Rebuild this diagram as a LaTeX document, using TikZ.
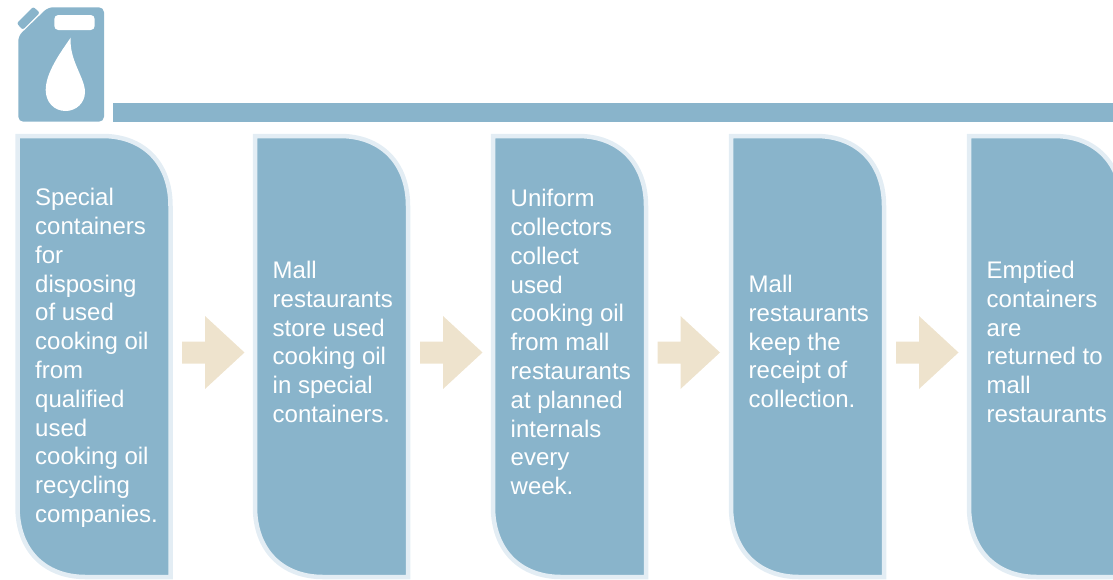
\documentclass[tikz,border=0pt]{standalone}
\usepackage{fontspec}
\setmainfont{Liberation Sans}
\definecolor{oilblue}{HTML}{89B4CB}
\definecolor{paleedge}{HTML}{E3EDF4}
\definecolor{sand}{HTML}{EEE3CD}
\tikzset{
  stagebox/.style={fill=oilblue,draw=paleedge,line width=4.5pt,line join=miter},
  stagetext/.style={text=white,anchor=north west,inner sep=0pt,align=left,font=\fontsize{24}{28.8}\selectfont},
  flowarrow/.style={fill=sand,draw=none},
}
\newcommand{\stageshape}[1]{%
  \path[stagebox] (#1,136) -- (#1+85,136)
    .. controls (#1+126,136) and (#1+153,163) .. (#1+153,206)
    -- (#1+153,577) -- (#1+68,577)
    .. controls (#1+27,577) and (#1,550) .. (#1,507) -- cycle;}
\newcommand{\flowshape}[1]{%
  \path[flowarrow] (#1,341.5) -- (#1+23,341.5) -- (#1+23,316) -- (#1+62.5,352.5)
    -- (#1+23,389) -- (#1+23,363.5) -- (#1,363.5) -- cycle;}
\begin{document}
\begin{tikzpicture}[x=1pt,y=-1pt]
\useasboundingbox (0,0) rectangle (1113,579);
\clip (0,0) rectangle (1113,579);
% canister
\fill[oilblue,rounded corners=5pt] (18.3,36) -- (48,7.3) -- (104,7.3) -- (104,121.7) -- (18.3,121.7) -- cycle;
\fill[oilblue,rounded corners=2pt] (16.8,23.3) -- (33.3,6.8) -- (39.8,12.7) -- (22.7,29.8) -- cycle;
\fill[white,rounded corners=4pt] (54.3,15) rectangle (94.7,30);
\fill[white] (70.7,37.7) .. controls (69,60) and (85,78) .. (85,92)
  .. controls (85,103) and (76,111) .. (65.7,111)
  .. controls (54,111) and (45.7,102) .. (45.7,90)
  .. controls (45.7,73) and (60,53) .. (70.7,37.7) -- cycle;
% bar
\fill[oilblue] (113,103) rectangle (1113,122);
% stages
\stageshape{17.5}\stageshape{255}\stageshape{493}\stageshape{731}\stageshape{969}
\node[stagetext] (s1) at (35,188) {Special\\containers\\for\\disposing\\of used\\cooking oil\\from\\qualified\\used\\cooking oil\\recycling\\companies.};
\node[stagetext] (s2) at (272.5,261) {Mall\\restaurants\\store used\\cooking oil\\in special\\containers.};
\node[stagetext] (s3) at (510.5,189) {Uniform\\collectors\\collect\\used\\cooking oil\\from mall\\restaurants\\at planned\\internals\\every\\week.};
\node[stagetext] (s4) at (748.5,275) {Mall\\restaurants\\keep the\\receipt of\\collection.};
\node[stagetext] (s5) at (986.5,261) {Emptied\\containers\\are\\returned to\\mall\\restaurants};
% arrows
\flowshape{182}\flowshape{420}\flowshape{657.5}\flowshape{896}
\end{tikzpicture}
\end{document}
